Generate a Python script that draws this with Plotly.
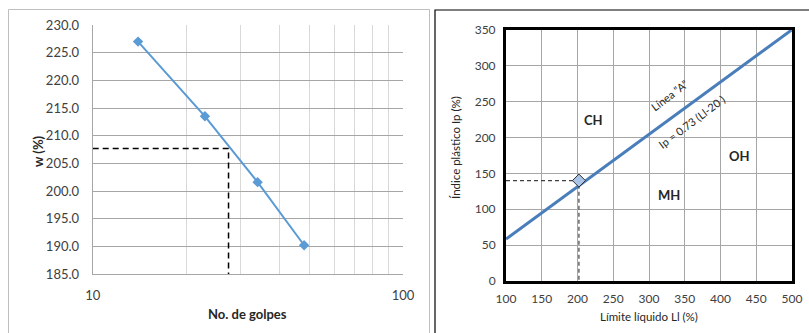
import plotly.graph_objects as go

# Casagrande cup test: number of blows vs. water content
golpes = [14, 23, 34, 48]
humedad = [227.0, 213.5, 201.6, 190.2]

# Reading of the liquid limit from the flow curve
lectura_n = [10, 27.4, 27.4]
lectura_w = [207.7, 207.7, 185.0]

# Plasticity chart: A line Ip = 0.73 (LL - 20)
ll_linea = [100, 499.4]
ip_linea = [0.73 * (v - 20) for v in ll_linea]

# Sample plotted on the chart
ll_muestra = [202]
ip_muestra = [140]
guia_ll = [100, 202, 202]
guia_ip = [140, 140, 0]

# Soil group labels
zonas = ["CH", "MH", "OH"]
zonas_ll = [223, 328, 427]
zonas_ip = [224, 120, 174]

W, H = 809, 333
FONT = "Lato"

fig = go.Figure()

fig.add_trace(go.Scatter(
    x=lectura_n, y=lectura_w, mode="lines", xaxis="x", yaxis="y",
    line=dict(color="black", width=1.5, dash="6px,4px"), hoverinfo="skip"))
fig.add_trace(go.Scatter(
    x=golpes, y=humedad, mode="lines+markers", xaxis="x", yaxis="y",
    line=dict(color="#5B9BD5", width=2),
    marker=dict(symbol="diamond", size=8, color="#5B9BD5")))

fig.add_trace(go.Scatter(
    x=ll_linea, y=ip_linea, mode="lines", xaxis="x2", yaxis="y2",
    line=dict(color="#4A7EBB", width=3), cliponaxis=True))
fig.add_trace(go.Scatter(
    x=guia_ll, y=guia_ip, mode="lines", xaxis="x2", yaxis="y2",
    line=dict(color="#404040", width=1.2, dash="4px,3px"), hoverinfo="skip"))
fig.add_trace(go.Scatter(
    x=ll_muestra, y=ip_muestra, mode="markers", xaxis="x2", yaxis="y2",
    marker=dict(symbol="diamond", size=10, color="#A9C4E8",
                line=dict(color="#303030", width=1))))


def px_x(a, b):
    return [a / W, b / W]


def px_y(top, bottom):
    return [(H - bottom) / H, (H - top) / H]


fig.update_layout(
    width=W, height=H, margin=dict(l=0, r=0, t=0, b=0),
    paper_bgcolor="white", plot_bgcolor="white", showlegend=False,
    font=dict(family=FONT, color="#404040"),
    xaxis=dict(
        type="log", domain=px_x(92.7, 403), range=[1, 2], automargin=False,
        tickvals=[10, 100], ticktext=["10", "100"],
        showgrid=True, gridcolor="#A6A6A6", gridwidth=1,
        minor=dict(tickvals=[20, 30, 40, 50, 60, 70, 80, 90],
                   showgrid=True, gridcolor="#D9D9D9", gridwidth=1),
        showline=True, linecolor="#A6A6A6", linewidth=1,
        ticks="outside", ticklen=9, tickcolor="rgba(0,0,0,0)",
        tickfont=dict(size=13, color="#404040"), zeroline=False),
    yaxis=dict(
        domain=px_y(25, 274), range=[185, 230], dtick=5, tickformat=".1f",
        automargin=False,
        showgrid=True, gridcolor="#A6A6A6", gridwidth=1,
        showline=True, linecolor="#A6A6A6", linewidth=1,
        ticks="outside", ticklen=10, tickcolor="rgba(0,0,0,0)",
        tickfont=dict(size=13, color="#404040"), zeroline=False),
    xaxis2=dict(
        domain=px_x(506, 792), range=[100, 500], dtick=50, anchor="y2",
        automargin=False,
        showgrid=True, gridcolor="#A6A6A6", gridwidth=1,
        showline=True, mirror=True, linecolor="black", linewidth=3,
        ticks="outside", ticklen=5, tickcolor="rgba(0,0,0,0)",
        tickfont=dict(size=12, color="#404040"), zeroline=False),
    yaxis2=dict(
        domain=px_y(30, 281), range=[0, 350], dtick=50, anchor="x2",
        automargin=False,
        showgrid=True, gridcolor="#A6A6A6", gridwidth=1,
        showline=True, mirror=True, linecolor="black", linewidth=3,
        ticks="outside", ticklen=5, tickcolor="rgba(0,0,0,0)",
        tickfont=dict(size=12, color="#404040"), zeroline=False),
)

shapes = [
    # chart frames
    dict(type="rect", xref="paper", yref="paper",
         x0=8.5 / W, x1=429.5 / W, y0=-0.05, y1=(H - 9.5) / H,
         line=dict(color="#BFBFBF", width=1)),
    dict(type="rect", xref="paper", yref="paper",
         x0=435 / W, x1=1.05, y0=-0.05, y1=(H - 10) / H,
         line=dict(color="black", width=1.2)),
]
fig.update_layout(shapes=shapes)

ann = [
    dict(text="<b>No. de golpes</b>", x=248 / W, y=(H - 314) / H,
         font=dict(size=13, color="#262626")),
    dict(text="<b>w (%)</b>", x=38 / W, y=(H - 151) / H, textangle=-90,
         font=dict(size=13, color="#262626")),
    dict(text="Límite líquido Ll (%)", x=648.5 / W, y=(H - 316) / H,
         font=dict(size=11.5, color="#262626")),
    dict(text="Índice plástico Ip (%)", x=455 / W, y=(H - 148) / H,
         textangle=-90, font=dict(size=11.5, color="#262626")),
]
for a in ann:
    a.update(xref="paper", yref="paper", showarrow=False,
             xanchor="center", yanchor="middle", font_family=FONT)
    fig.add_annotation(**a)

for nombre, xv, yv in zip(zonas, zonas_ll, zonas_ip):
    fig.add_annotation(text=f"<b>{nombre}</b>", x=xv, y=yv, xref="x2", yref="y2",
                       showarrow=False, font=dict(family=FONT, size=13, color="#262626"))

fig.add_annotation(text="Línea “A”", x=328, y=259, xref="x2", yref="y2",
                   showarrow=False, textangle=-37,
                   font=dict(family=FONT, size=11, color="#262626"))
fig.add_annotation(text="Ip = 0.73 (Ll-20 )", x=360, y=222, xref="x2", yref="y2",
                   showarrow=False, textangle=-37,
                   font=dict(family=FONT, size=11, color="#262626"))

fig.write_html("out.html")
